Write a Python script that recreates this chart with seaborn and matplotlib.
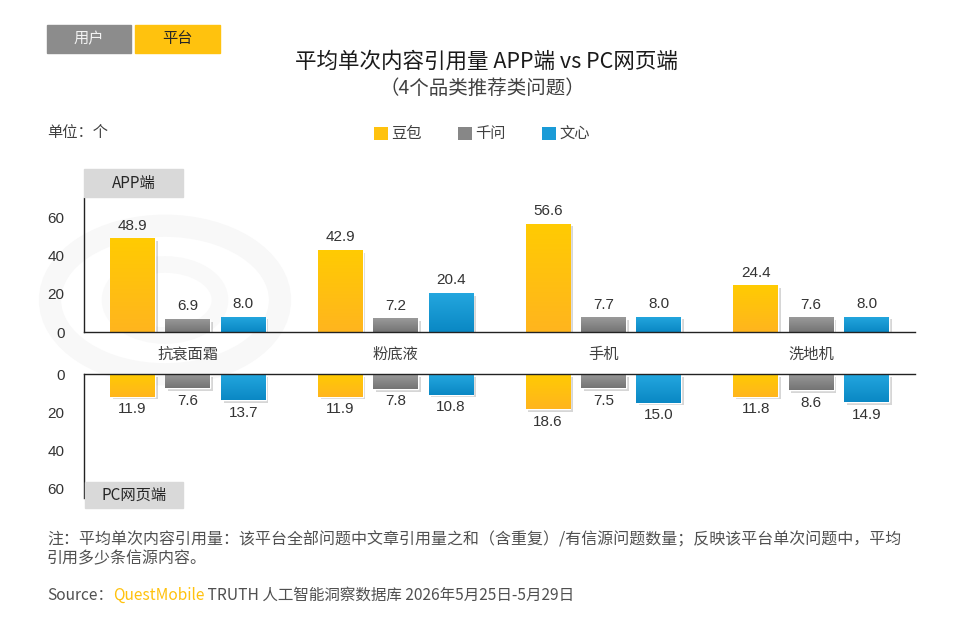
import numpy as np
import pandas as pd
import seaborn as sns
import matplotlib.pyplot as plt
from matplotlib.patches import Rectangle, Circle, Patch
from matplotlib.colors import LinearSegmentedColormap
from matplotlib import patheffects as pe

categories = ['抗衰面霜', '粉底液', '手机', '洗地机']
platforms = ['豆包', '千问', '文心']
app_doubao = [48.9, 42.9, 56.6, 24.4]
app_qianwen = [6.9, 7.2, 7.7, 7.6]
app_wenxin = [8.0, 20.4, 8.0, 8.0]
pc_doubao = [11.9, 11.9, 18.6, 11.8]
pc_qianwen = [7.6, 7.8, 7.5, 8.6]
pc_wenxin = [13.7, 10.8, 15.0, 14.9]
y_ticks = [0, 20, 40, 60]
colors = ['#FFC20E', '#878787', '#1A9BD7']
# light (top) / dark (bottom) shades for the bar gradients
grad_colors = [('#FFCB02', '#FFB51E'), ('#9A9A9A', '#747474'), ('#24A7DF', '#0A88C4')]


def long_df(series):
    rows = []
    for name, vals in zip(platforms, series):
        for c, v in zip(categories, vals):
            rows.append({'品类': c, '平台': name, '值': v})
    return pd.DataFrame(rows)


app_df = long_df([app_doubao, app_qianwen, app_wenxin])
pc_df = long_df([pc_doubao, pc_qianwen, pc_wenxin])

sns.set_theme(style='white')
plt.rcParams['font.family'] = ['Noto Sans CJK SC', 'DejaVu Sans']
NUM_FONT = 'Liberation Sans'
W, H = 960, 620


def fx(px):
    return px / W


def fy(py):
    return 1 - py / H


fig = plt.figure(figsize=(9.6, 6.2), dpi=100)
fig.patch.set_facecolor('white')

# faint logo ring behind the chart
fig.add_artist(Circle((fx(165), fy(300)), 115 / W, transform=fig.transFigure,
                      fill=False, lw=16, ec='#F8F8F8', zorder=-2))
fig.add_artist(Circle((fx(165), fy(300)), 55 / W, transform=fig.transFigure,
                      fill=False, lw=12, ec='#F9F9F9', zorder=-2))

ax_top = fig.add_axes([fx(84), fy(332), fx(915) - fx(84), 134 / H])
ax_bot = fig.add_axes([fx(84), fy(498), fx(915) - fx(84), 124 / H])

for ax, df, lim in [(ax_top, app_df, (0, 70)), (ax_bot, pc_df, (65, 0))]:
    sns.barplot(data=df, x='品类', y='值', hue='平台', palette=colors,
                saturation=1, width=0.8, gap=0.19, errorbar=None,
                legend=False, ax=ax)
    ax.set_facecolor('none')
    ax.set_xlim(-0.5, 3.5)
    ax.set_ylim(*lim)
    ax.set_xlabel('')
    ax.set_ylabel('')
    ax.set_yticks(y_ticks)
    ax.tick_params(axis='y', length=0, pad=14, labelsize=11, labelcolor='#333333')
    for lab in ax.get_yticklabels():
        lab.set_family(NUM_FONT)
    for s in ax.spines.values():
        s.set_color('#222222')
        s.set_linewidth(1.0)
    ax.spines['right'].set_visible(False)
    inverted = ax.yaxis_inverted()
    for c, (light, dark) in zip(ax.containers, grad_colors):
        cmap = LinearSegmentedColormap.from_list('g', [light, dark] if inverted else [dark, light])
        for p in c:
            p.set_path_effects([pe.SimplePatchShadow(offset=(2, -2), shadow_rgbFace='black', alpha=0.16),
                                pe.Normal()])
            x0, y0, w, h = p.get_x(), p.get_y(), p.get_width(), p.get_height()
            im = ax.imshow(np.linspace(0, 1, 64).reshape(-1, 1), cmap=cmap, aspect='auto',
                           origin='lower', extent=(x0, x0 + w, y0, y0 + h), zorder=p.get_zorder() + 0.1)
            im.set_clip_path(p)
        ax.bar_label(c, fmt='%.1f', padding=4, fontsize=11, color='#333333', family=NUM_FONT)
    ax.set_xlim(-0.5, 3.5)
    ax.set_ylim(*lim)

ax_top.spines['top'].set_visible(False)
ax_top.tick_params(axis='x', length=0, pad=10, labelsize=11, labelcolor='#404040')

ax_bot.spines['bottom'].set_visible(False)
ax_bot.set_xticks([])

# panel tabs
fig.add_artist(Rectangle((fx(84), fy(197)), 99 / W, 28 / H, transform=fig.transFigure,
                         color='#D9D9D9', zorder=5))
fig.text(fx(133.5), fy(183), 'APP端', fontsize=11, color='#262626', ha='center', va='center', zorder=6)
fig.add_artist(Rectangle((fx(85), fy(508)), 98 / W, 26 / H, transform=fig.transFigure,
                         color='#D9D9D9', zorder=5))
fig.text(fx(134), fy(495), 'PC网页端', fontsize=11, color='#262626', ha='center', va='center', zorder=6)

# top-left switch tabs
fig.add_artist(Rectangle((fx(47), fy(53)), 84 / W, 28 / H, transform=fig.transFigure,
                         color='#8C8C8C', zorder=5))
fig.text(fx(89), fy(39), '用户', fontsize=11, color='#F2F2F2', ha='center', va='center', zorder=6)
fig.add_artist(Rectangle((fx(135), fy(53)), 85 / W, 28 / H, transform=fig.transFigure,
                         color='#FFC20E', zorder=5))
fig.text(fx(177.5), fy(39), '平台', fontsize=11, color='#262626', ha='center', va='center', zorder=6)

# titles
fig.text(fx(486), fy(62), '平均单次内容引用量 APP端 vs PC网页端', fontsize=15.5,
         weight='medium', color='#1A1A1A', ha='center', va='center')
fig.text(fx(482), fy(88), '（4个品类推荐类问题）', fontsize=14,
         color='#404040', ha='center', va='center')
fig.text(fx(47), fy(133), '单位：个', fontsize=11, color='#404040', va='center')

handles = [Patch(facecolor=c, edgecolor='none') for c in colors]
fig.legend(handles, platforms, loc='center', bbox_to_anchor=(fx(482), fy(134)), ncol=3,
           frameon=False, fontsize=11, handlelength=0.9, handleheight=0.9,
           handletextpad=0.2, columnspacing=2.4, labelcolor='#404040')

# notes
fig.text(fx(47), fy(540), '注：平均单次内容引用量：该平台全部问题中文章引用量之和（含重复）/有信源问题数量；反映该平台单次问题中，平均',
         fontsize=11.5, color='#505050', va='center')
fig.text(fx(47), fy(559), '引用多少条信源内容。', fontsize=11.5, color='#505050', va='center')

fig.canvas.draw()
r = fig.canvas.get_renderer()
x = fx(47)
for txt, col in [('Source：', '#505050'), ('QuestMobile', '#FFC20E'),
                 (' TRUTH 人工智能洞察数据库 2026年5月25日-5月29日', '#505050')]:
    t = fig.text(x, fy(595), txt, fontsize=11.2, color=col, va='center')
    x = t.get_window_extent(renderer=r).x1 / fig.bbox.width

fig.savefig('out.png', dpi=100)
